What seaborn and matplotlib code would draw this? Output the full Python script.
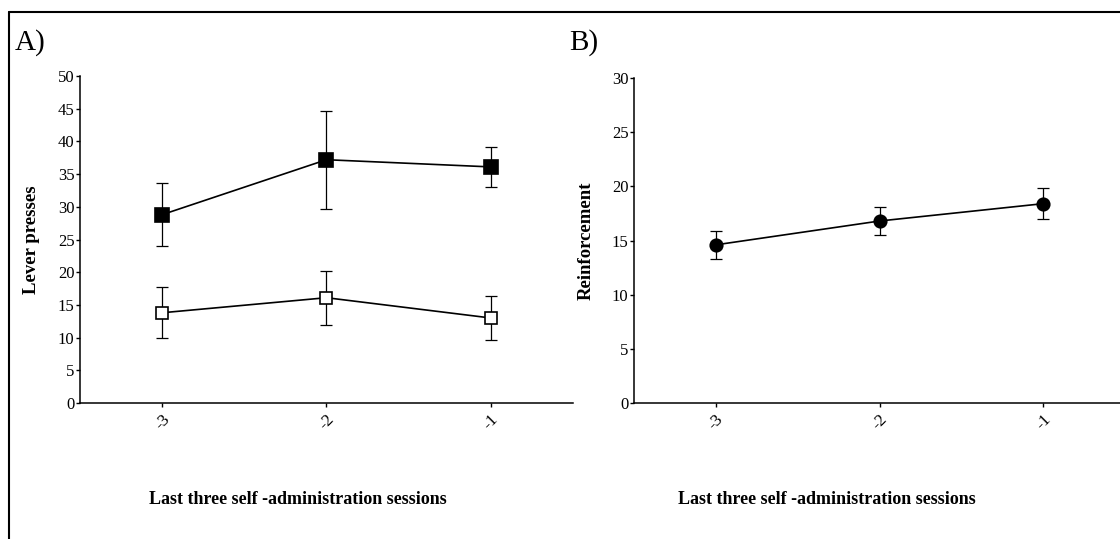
import pandas as pd
import matplotlib.pyplot as plt
from matplotlib.lines import Line2D
import seaborn as sns

sessions = [-3, -2, -1]
tick_labels = ['-3', '-2', '-1']

# panel A: lever presses
active_mean = [28.8, 37.2, 36.1]
active_err = [4.8, 7.5, 3.0]
inactive_mean = [13.8, 16.1, 13.0]
inactive_err = [3.9, 4.1, 3.3]

# panel B: reinforcement
reinf_mean = [14.6, 16.8, 18.4]
reinf_err = [1.3, 1.3, 1.4]

sns.set_style('ticks')
plt.rcParams['font.family'] = ['Liberation Serif', 'DejaVu Serif']
plt.rcParams['axes.unicode_minus'] = False
plt.rcParams['axes.linewidth'] = 1.1
plt.rcParams['axes.edgecolor'] = 'black'
plt.rcParams['text.color'] = 'black'
plt.rcParams['axes.labelcolor'] = 'black'
plt.rcParams['xtick.color'] = 'black'
plt.rcParams['ytick.color'] = 'black'
plt.rcParams['xtick.major.width'] = 1.0
plt.rcParams['ytick.major.width'] = 1.0
plt.rcParams['xtick.major.size'] = 3
plt.rcParams['ytick.major.size'] = 3

fig = plt.figure(figsize=(11.2, 5.39), dpi=100)
axA = fig.add_axes([0.0714, 0.2523, 0.4402, 0.6067])
axB = fig.add_axes([0.5661, 0.2523, 0.4384, 0.6030])

dfA1 = pd.DataFrame({'session': sessions, 'value': active_mean})
dfA2 = pd.DataFrame({'session': sessions, 'value': inactive_mean})
dfB = pd.DataFrame({'session': sessions, 'value': reinf_mean})

def draw(ax, df, err, marker, face, ms):
    ax.errorbar(df['session'], df['value'], yerr=err, fmt='none', ecolor='black',
                elinewidth=0.9, capsize=4.3, capthick=0.9, zorder=2)
    sns.lineplot(data=df, x='session', y='value', ax=ax, color='black', lw=1.2,
                 marker=marker, markersize=ms, markerfacecolor=face,
                 markeredgecolor='black', markeredgewidth=1.2, zorder=3)

draw(axA, dfA1, active_err, 's', 'black', 10)
draw(axA, dfA2, inactive_err, 's', 'white', 9)
draw(axB, dfB, reinf_err, 'o', 'black', 9)

for ax, ymax, ylab, lx in [(axA, 50, 'Lever presses', -0.081),
                          (axB, 30, 'Reinforcement', -0.080)]:
    ax.set_xlim(-3.5, -0.5)
    ax.set_ylim(0, ymax)
    ax.set_yticks(range(0, ymax + 1, 5))
    ax.set_xticks(sessions)
    ax.set_xticklabels(tick_labels, rotation=45, ha='center', fontsize=12.5)
    ax.tick_params(axis='y', labelsize=12, pad=1)
    ax.tick_params(axis='x', pad=3)
    ax.set_ylabel(ylab, fontsize=13.5, fontweight='bold')
    ax.yaxis.set_label_coords(lx, 0.5)
    ax.set_xlabel('Last three self -administration sessions', fontsize=13,
                  fontweight='bold')
    sns.despine(ax=ax)
    ax.grid(False)

axA.xaxis.set_label_coords(0.442, -0.27)
axB.xaxis.set_label_coords(0.393, -0.27)
axA.xaxis.label.set_va('top')
axB.xaxis.label.set_va('top')

fig.text(0.013, 0.922, 'A)', fontsize=21, va='center', ha='left')
fig.text(0.508, 0.922, 'B)', fontsize=21, va='center', ha='left')

# outer frame (top and left edges visible)
fig.add_artist(Line2D([0.008, 0.008], [0.0, 0.978], transform=fig.transFigure,
                      color='black', lw=1.5))
fig.add_artist(Line2D([0.008, 1.0], [0.978, 0.978], transform=fig.transFigure,
                      color='black', lw=1.5))

fig.savefig('out.png', dpi=100)
